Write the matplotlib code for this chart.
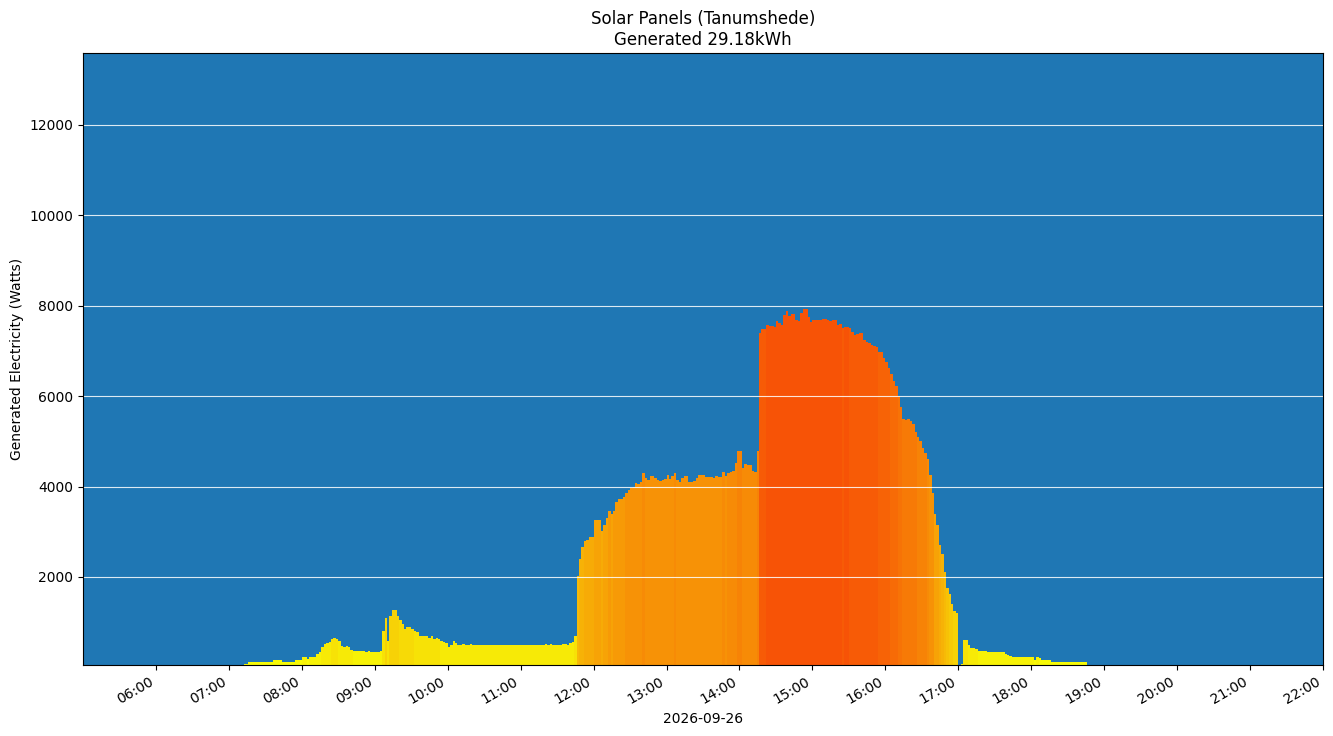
import numpy as np
import pandas as pd
import matplotlib
matplotlib.use("Agg")
import matplotlib.pyplot as plt
import matplotlib.dates as mdates
from matplotlib.colors import PowerNorm

day = "2026-09-26"
site = "Tanumshede"
generated_kwh = "29.18"
first_sample = "07:12"
step_minutes = 2

# power readings in watts, one per 2 minutes from 07:12
morning = [
    75, 75, 120, 120, 120, 120, 120, 120, 120, 120, 120, 120, 164, 164,
    164, 164, 120, 120, 120, 120, 120, 164, 164, 164, 230, 230, 180, 230, 230,
    230, 297, 350, 440, 518, 547, 570, 620, 650, 628, 584, 474, 450, 474, 440,
    390, 363, 363, 363, 363, 363, 330, 363, 340, 330, 330, 330, 363, 800, 1093,
    590, 1137, 1270, 1270, 1137, 1049, 950, 850, 894, 894, 850, 805, 780, 695, 695,
    695, 695, 650, 695, 620, 650, 620, 584, 562, 540, 452, 500, 584, 540, 496,
]
late_morning = [
    496, 518, 496, 496, 518, 496, 496, 496, 496, 496, 496, 496, 496, 496, 496,
    496, 496, 496, 496, 496, 496, 496, 496, 496, 496, 496, 496, 496, 496, 496,
    496, 496, 496, 496, 496, 518, 496, 518, 496, 496, 496, 496, 518, 518, 496,
]
midday = [
    540, 562, 700, 2022, 2400, 2663, 2796, 2818, 2885, 2885, 3261, 3261, 3261, 3018, 3150,
    3300, 3470, 3400, 3460, 3650, 3726, 3726, 3770, 3850, 3925, 3969, 4000, 4079, 4060, 4101,
    4300, 4200, 4150, 4234, 4234, 4190, 4150, 4123, 4140, 4167, 4256, 4160, 4230, 4300, 4145,
    4101, 4190, 4234, 4234, 4101, 4100, 4123, 4190, 4256, 4256, 4256, 4212, 4212, 4212, 4190,
    4234, 4212, 4212, 4322, 4234, 4300, 4322, 4345, 4522, 4787, 4787, 4400, 4500, 4478, 4478,
]
afternoon = [
    4345, 4322, 4787, 7400, 7497, 7486, 7574, 7552, 7552, 7530, 7663, 7620, 7574, 7795, 7884,
    7780, 7817, 7817, 7680, 7663, 7840, 7928, 7928, 7751, 7640, 7685, 7685, 7675, 7685, 7700,
    7707, 7685, 7663, 7685, 7685, 7580, 7590, 7508, 7530, 7530, 7508, 7420, 7353, 7375, 7397,
    7397, 7250, 7190, 7176, 7132, 7110, 7080, 6977, 6977, 6850, 6760, 6623, 6490, 6336, 6225,
    6000, 5750, 5500, 5473, 5495, 5450, 5380, 5207, 5100, 5000, 4850, 4743, 4610, 4256, 3850,
    3400, 3150, 2700, 2500, 2100, 1750, 1624, 1403, 1250, 1204, 0, 75, 606, 606, 496,
]
evening = [
    430, 430, 400, 363, 363, 363, 363, 341, 341, 341, 341, 341, 341, 341, 297,
    275, 250, 230, 230, 230, 230, 230, 230, 230, 230, 230, 164, 230, 200, 164,
    164, 164, 164, 120, 120, 120, 120, 120, 120, 120, 120, 120, 120, 120, 120,
    120, 120, 120,
]

watts = np.array(morning + late_morning + midday + afternoon + evening, dtype=float)
times = pd.date_range(f"{day} {first_sample}", periods=len(watts), freq=f"{step_minutes}min")

# stepped colour table, yellow for low output -> orange-red for high
cmap = plt.get_cmap("autumn_r", 32)
norm = PowerNorm(gamma=0.7, vmin=130, vmax=13600, clip=True)
colors = cmap(norm(watts))

fig, ax = plt.subplots(figsize=(13.33, 7.36), dpi=100)
fig.subplots_adjust(left=0.0623, right=0.9925, top=0.928, bottom=0.0965)

ax.set_facecolor("#1f77b4")
ax.bar(times, watts, width=step_minutes / 1440, align="edge", color=colors,
       linewidth=0, alpha=0.97)

ax.set_xlim(pd.Timestamp(f"{day} 05:00"), pd.Timestamp(f"{day} 22:00"))
ax.set_ylim(53, 13593)
ax.set_yticks(np.arange(2000, 12001, 2000))
ax.grid(axis="y", color="white", linewidth=0.8, alpha=0.85)

ax.xaxis.set_major_locator(mdates.HourLocator(byhour=range(6, 23)))
ax.xaxis.set_major_formatter(mdates.DateFormatter("%H:%M"))
for lbl in ax.get_xticklabels():
    lbl.set_rotation(30)
    lbl.set_ha("right")

ax.set_xlabel(day)
ax.set_ylabel("Generated Electricity (Watts)")
ax.set_title(f"Solar Panels ({site})\nGenerated {generated_kwh}kWh")

plt.savefig("out.png")
plt.close()
